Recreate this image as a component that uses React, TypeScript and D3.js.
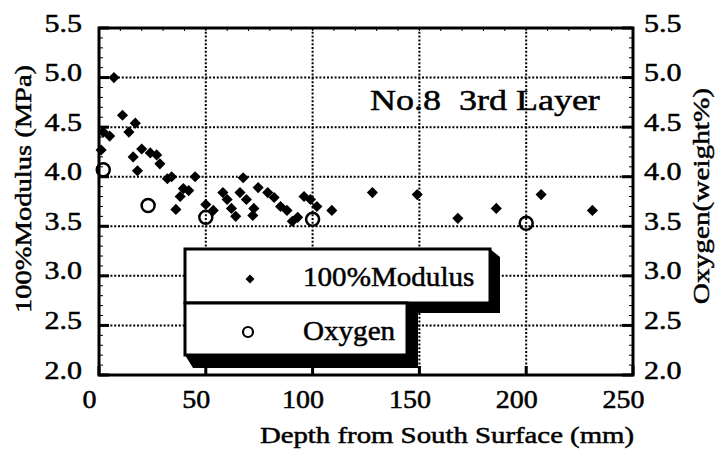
import { useEffect, useRef } from "react";
import * as d3 from "d3";

// depth (mm) vs 100% modulus (MPa)
const modulusDepth = [
  1, 2, 5, 7, 11, 14, 17, 16, 18, 20, 24, 27, 28.5, 32, 34, 36, 38, 39.5, 42, 45,
  50, 53.5, 58, 60, 62, 64, 66, 67.5, 69, 72, 72.5, 74.5, 79, 82, 85, 88, 90.5, 93,
  96, 99, 102, 109, 128, 149, 168, 186, 207, 231,
];
const modulusValue = [
  4.27, 4.45, 4.41, 5.0, 4.62, 4.45, 4.54, 4.2, 4.06, 4.28, 4.24, 4.22, 4.13, 3.98, 4.0, 3.67,
  3.8, 3.88, 3.86, 4.0, 3.72, 3.66, 3.84, 3.77, 3.68, 3.6, 3.84, 3.99, 3.77, 3.61, 3.68, 3.89,
  3.84, 3.79, 3.7, 3.66, 3.55, 3.59, 3.8, 3.77, 3.7, 3.66, 3.84, 3.82, 3.58, 3.68, 3.82, 3.66,
];
// depth (mm) vs oxygen (weight%)
const oxygenDepth = [2, 23, 50, 100, 200];
const oxygenValue = [4.07, 3.71, 3.59, 3.57, 3.53];

const xTicks = [0, 50, 100, 150, 200, 250];
const yTicks = [2.0, 2.5, 3.0, 3.5, 4.0, 4.5, 5.0, 5.5];
const xGrid = [50, 100, 150, 200];
const yGrid = [2.5, 3.0, 3.5, 4.0, 4.5, 5.0];

const W = 725;
const H = 449;
const P = { left: 99, right: 633, top: 28, bottom: 375 };
const FONT = "'Liberation Serif', 'Times New Roman', serif";

export default function App() {
  const ref = useRef<SVGSVGElement>(null);

  useEffect(() => {
    const svg = d3.select(ref.current!);
    svg.selectAll("*").remove();

    const x = d3.scaleLinear().domain([0, 250]).range([P.left, P.right]);
    const y = d3.scaleLinear().domain([2, 5.5]).range([P.bottom, P.top]);

    const txt = (
      s: string,
      tx: number,
      ty: number,
      size: number,
      sx: number,
      anchor = "start",
      rot = 0
    ) => {
      svg
        .append("g")
        .attr("transform", `translate(${tx},${ty}) rotate(${rot}) scale(${sx},1)`)
        .append("text")
        .attr("text-anchor", anchor)
        .attr("font-family", FONT)
        .attr("font-size", size)
        .attr("fill", "#000")
        .attr("stroke", "#000")
        .attr("stroke-width", 0.5)
        .style("white-space", "pre")
        .text(s);
    };

    // dotted grid
    const grid = svg.append("g").attr("stroke", "#000").attr("stroke-width", 2).attr("stroke-dasharray", "2,1.8");
    grid
      .selectAll("line.v")
      .data(xGrid)
      .join("line")
      .attr("x1", (d) => x(d))
      .attr("x2", (d) => x(d))
      .attr("y1", P.top)
      .attr("y2", P.bottom);
    grid
      .selectAll("line.h")
      .data(yGrid)
      .join("line")
      .attr("class", "h")
      .attr("x1", P.left)
      .attr("x2", P.right)
      .attr("y1", (d) => y(d))
      .attr("y2", (d) => y(d));

    // ticks
    const ticks = svg.append("g").attr("stroke", "#000");
    const minorY = d3.range(2, 5.501, 0.1);
    const minorX = d3.range(0, 250.1, 10);
    ticks
      .selectAll("line.my")
      .data(minorY)
      .join("line")
      .attr("class", "my")
      .attr("stroke-width", 1)
      .attr("x1", P.left)
      .attr("x2", P.left + 4)
      .attr("y1", (d) => y(d))
      .attr("y2", (d) => y(d));
    ticks
      .selectAll("line.myr")
      .data(minorY)
      .join("line")
      .attr("class", "myr")
      .attr("stroke-width", 1)
      .attr("x1", P.right)
      .attr("x2", P.right - 4)
      .attr("y1", (d) => y(d))
      .attr("y2", (d) => y(d));
    ticks
      .selectAll("line.mx")
      .data(minorX)
      .join("line")
      .attr("class", "mx")
      .attr("stroke-width", 1)
      .attr("x1", (d) => x(d))
      .attr("x2", (d) => x(d))
      .attr("y1", P.top)
      .attr("y2", P.top + 3);
    ticks
      .selectAll("line.Y")
      .data(yTicks)
      .join("line")
      .attr("class", "Y")
      .attr("stroke-width", 3)
      .attr("x1", P.left)
      .attr("x2", P.left + 10)
      .attr("y1", (d) => y(d))
      .attr("y2", (d) => y(d));
    ticks
      .selectAll("line.YR")
      .data(yTicks)
      .join("line")
      .attr("class", "YR")
      .attr("stroke-width", 3)
      .attr("x1", P.right)
      .attr("x2", P.right - 11)
      .attr("y1", (d) => y(d))
      .attr("y2", (d) => y(d));
    ticks
      .selectAll("line.X")
      .data(xTicks)
      .join("line")
      .attr("class", "X")
      .attr("stroke-width", 3)
      .attr("x1", (d) => x(d))
      .attr("x2", (d) => x(d))
      .attr("y1", P.bottom)
      .attr("y2", P.bottom - 9);

    // frame
    svg
      .append("rect")
      .attr("x", P.left)
      .attr("y", P.top)
      .attr("width", P.right - P.left)
      .attr("height", P.bottom - P.top)
      .attr("fill", "none")
      .attr("stroke", "#000")
      .attr("stroke-width", 3);

    // modulus diamonds
    const diamond = d3.symbol(d3.symbolSquare, 62);
    svg
      .append("g")
      .selectAll("path")
      .data(modulusDepth.map((d, i) => [d, modulusValue[i]] as [number, number]))
      .join("path")
      .attr("d", diamond)
      .attr("transform", (d) => `translate(${x(d[0])},${y(d[1])}) rotate(45)`)
      .attr("fill", "#000");

    // oxygen circles
    svg
      .append("g")
      .selectAll("circle")
      .data(oxygenDepth.map((d, i) => [d, oxygenValue[i]] as [number, number]))
      .join("circle")
      .attr("cx", (d) => x(d[0]))
      .attr("cy", (d) => y(d[1]))
      .attr("r", 6.5)
      .attr("fill", "none")
      .attr("stroke", "#000")
      .attr("stroke-width", 2.5);

    // legend
    const L = { x0: 185, y0: 249, x1: 490, ys: 303, x2: 407, y2: 355 };
    svg
      .append("polygon")
      .attr(
        "points",
        [
          [L.x1, L.y0],
          [L.x1 + 10, L.y0 + 8],
          [L.x1 + 10, L.ys + 10],
          [L.x2 + 11, L.ys + 10],
          [L.x2 + 11, L.y2 + 13],
          [L.x0 + 8, L.y2 + 13],
          [L.x0, L.y2],
        ]
          .map((p) => p.join(","))
          .join(" ")
      )
      .attr("fill", "#000");
    svg
      .append("rect")
      .attr("x", L.x0)
      .attr("y", L.y0)
      .attr("width", L.x1 - L.x0)
      .attr("height", L.ys - L.y0)
      .attr("fill", "#fff")
      .attr("stroke", "#000")
      .attr("stroke-width", 3);
    svg
      .append("rect")
      .attr("x", L.x0)
      .attr("y", L.ys)
      .attr("width", L.x2 - L.x0)
      .attr("height", L.y2 - L.ys)
      .attr("fill", "#fff")
      .attr("stroke", "#000")
      .attr("stroke-width", 3);
    svg
      .append("path")
      .attr("d", d3.symbol(d3.symbolSquare, 40)())
      .attr("transform", `translate(250,279) rotate(45)`)
      .attr("fill", "#000");
    svg
      .append("circle")
      .attr("cx", 248)
      .attr("cy", 332)
      .attr("r", 5)
      .attr("fill", "none")
      .attr("stroke", "#000")
      .attr("stroke-width", 2.2);
    txt("100%Modulus", 303, 286, 28, 1.04);
    txt("Oxygen", 303, 340, 28, 1.04);

    // tick labels
    yTicks.forEach((v) => {
      txt(v.toFixed(1), 82, y(v) + 3.5, 25, 1.2, "end");
      txt(v.toFixed(1), 644, y(v) + 3.5, 25, 1.2, "start");
    });
    xTicks.forEach((v) => txt(String(v), x(v) - 9.5, 408, 25, 1.12, "middle"));

    // titles
    txt("Depth from South Surface (mm)", 447, 443, 24, 1.2, "middle");
    txt("100%Modulus (MPa)", 31, 189, 24, 1.19, "middle", -90);
    txt("Oxygen(weight%)", 709, 196, 24, 1.22, "middle", -90);
    txt("No.8  3rd Layer", 370, 110, 30, 1.2);
  }, []);

  return (
    <svg
      ref={ref}
      width={W}
      height={H}
      viewBox={`0 0 ${W} ${H}`}
      style={{ position: "absolute", left: 0, top: 0, background: "#fff" }}
    />
  );
}
